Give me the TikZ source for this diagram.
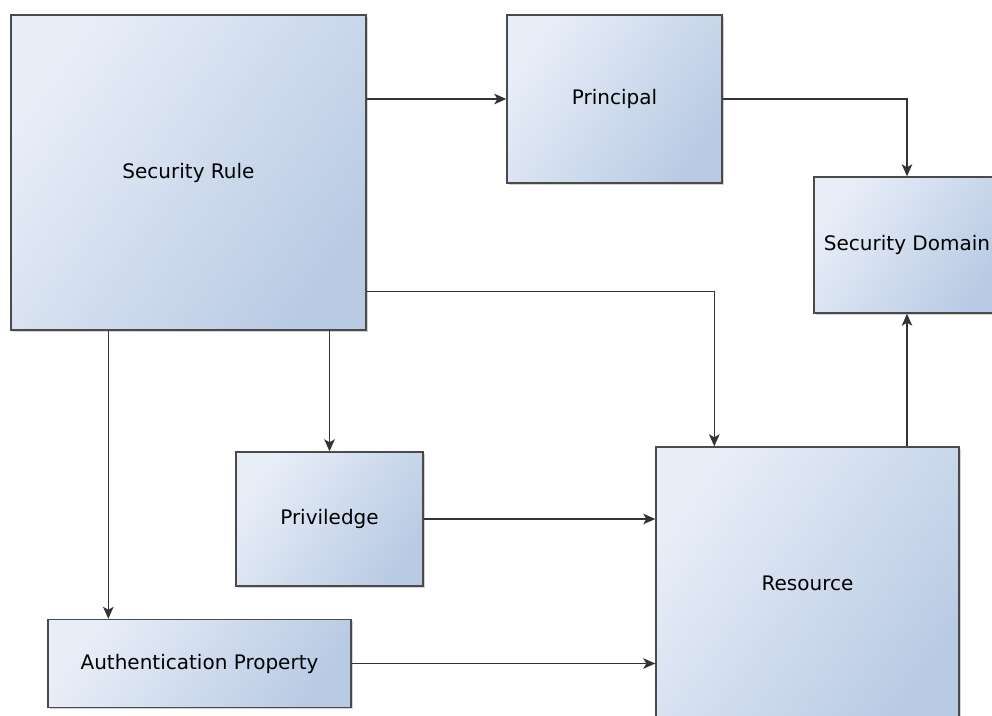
\documentclass[tikz,border=0pt]{standalone}
\usepackage{fontspec}
\setmainfont{DejaVu Sans}
\usetikzlibrary{arrows.meta,shadows}
\definecolor{boxlight}{HTML}{E8EEF8}
\definecolor{boxdark}{HTML}{B9CBE4}
\definecolor{boxline}{HTML}{4A4A4A}
\definecolor{wire}{HTML}{333333}
\tikzset{
  box/.style={draw=boxline, line width=1.4pt,
    top color=boxlight, bottom color=boxdark, shading angle=55,
    drop shadow={shadow xshift=1.5pt, shadow yshift=-1.5pt, opacity=0.35, fill=gray},
    font=\fontsize{20}{24}\selectfont, text=black, inner sep=0pt},
  arr/.style={draw=wire, line width=1.5pt,
    -{Stealth[length=12pt,width=10.5pt,inset=3pt]}}
}
\begin{document}
\begin{tikzpicture}[x=1pt,y=-1pt]
  \useasboundingbox (0,0) rectangle (992,715);
  \clip (0,0) rectangle (992,715);
  % boxes
  \node[box, minimum width=355pt, minimum height=315pt] (rule) at (188.5,172.5) {Security Rule};
  \node[box, minimum width=215pt, minimum height=168pt] (principal) at (614.5,99) {Principal};
  \node[box, minimum width=186pt, minimum height=136pt] (domain) at (907,245) {Security Domain};
  \node[box, minimum width=187pt, minimum height=134pt] (priv) at (329.5,519) {Priviledge};
  \node[box, minimum width=303pt, minimum height=272pt] (resource) at (807.5,583) {Resource};
  \node[box, minimum width=303pt, minimum height=88pt] (auth) at (199.5,663.5) {Authentication Property};
  % connector end points
  \coordinate (authin) at ([xshift=61pt]auth.north west);
  \coordinate (resin) at ([xshift=59pt]resource.north west);
  % connectors
  \draw[arr] (rule.east |- principal.west) -- (principal.west);
  \draw[arr] (principal.east) -| (domain.north);
  \draw[arr] ([yshift=39pt]rule.south east) -| (resin);
  \draw[arr] (rule.south -| priv.north) -- (priv.north);
  \draw[arr] (rule.south -| authin) -- (authin);
  \draw[arr] (priv.east) -- (priv.east -| resource.west);
  \draw[arr] (auth.east) -- (auth.east -| resource.west);
  \draw[arr] (resource.north -| domain.south) -- (domain.south);
\end{tikzpicture}
\end{document}
